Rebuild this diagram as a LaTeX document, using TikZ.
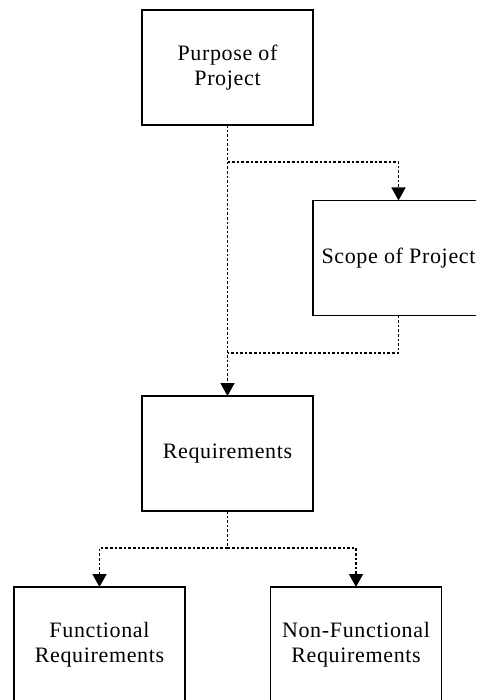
\documentclass[tikz,border=0pt]{standalone}
\usepackage{fontspec}
\setmainfont{Liberation Serif}[LetterSpace=3]
\usetikzlibrary{arrows.meta}
\tikzset{
  box/.style={draw=black, line width=1.3pt, fill=white, minimum width=171pt, minimum height=115pt,
    inner sep=0pt, outer sep=0pt, align=center, font=\fontsize{22}{25}\selectfont},
  dotline/.style={line width=1.5pt, dash pattern=on 2.6pt off 2pt},
  arr/.style={dotline, -{Triangle[length=13pt,width=14pt]}}
}
\begin{document}
\begin{tikzpicture}[x=1pt,y=-1pt]
\clip (0,0) rectangle (476,700);
\fill[white] (0,0) rectangle (476,700);
\node[box] (purpose) at (227.5,67.5) {Purpose of\\Project};
\node[box] (scope) at (398.5,258) {Scope of Project};
\node[box] (req) at (227.5,453.5) {Requirements};
\node[box] (func) at (99.5,644.5) {Functional\\Requirements};
\node[box] (nonf) at (356,644.5) {Non-Functional\\Requirements};
\coordinate (b1) at (227.5,162);
\coordinate (j1) at (227.5,353);
\coordinate (b2) at (227.5,548);
\draw[arr] (purpose.south) -- (req.north);
\draw[arr] (b1) -| (scope.north);
\draw[dotline] (scope.south) |- (j1);
\draw[dotline] (req.south) -- (b2);
\draw[arr] (b2) -| (func.north);
\draw[arr] (b2) -| (nonf.north);
\end{tikzpicture}
\end{document}
